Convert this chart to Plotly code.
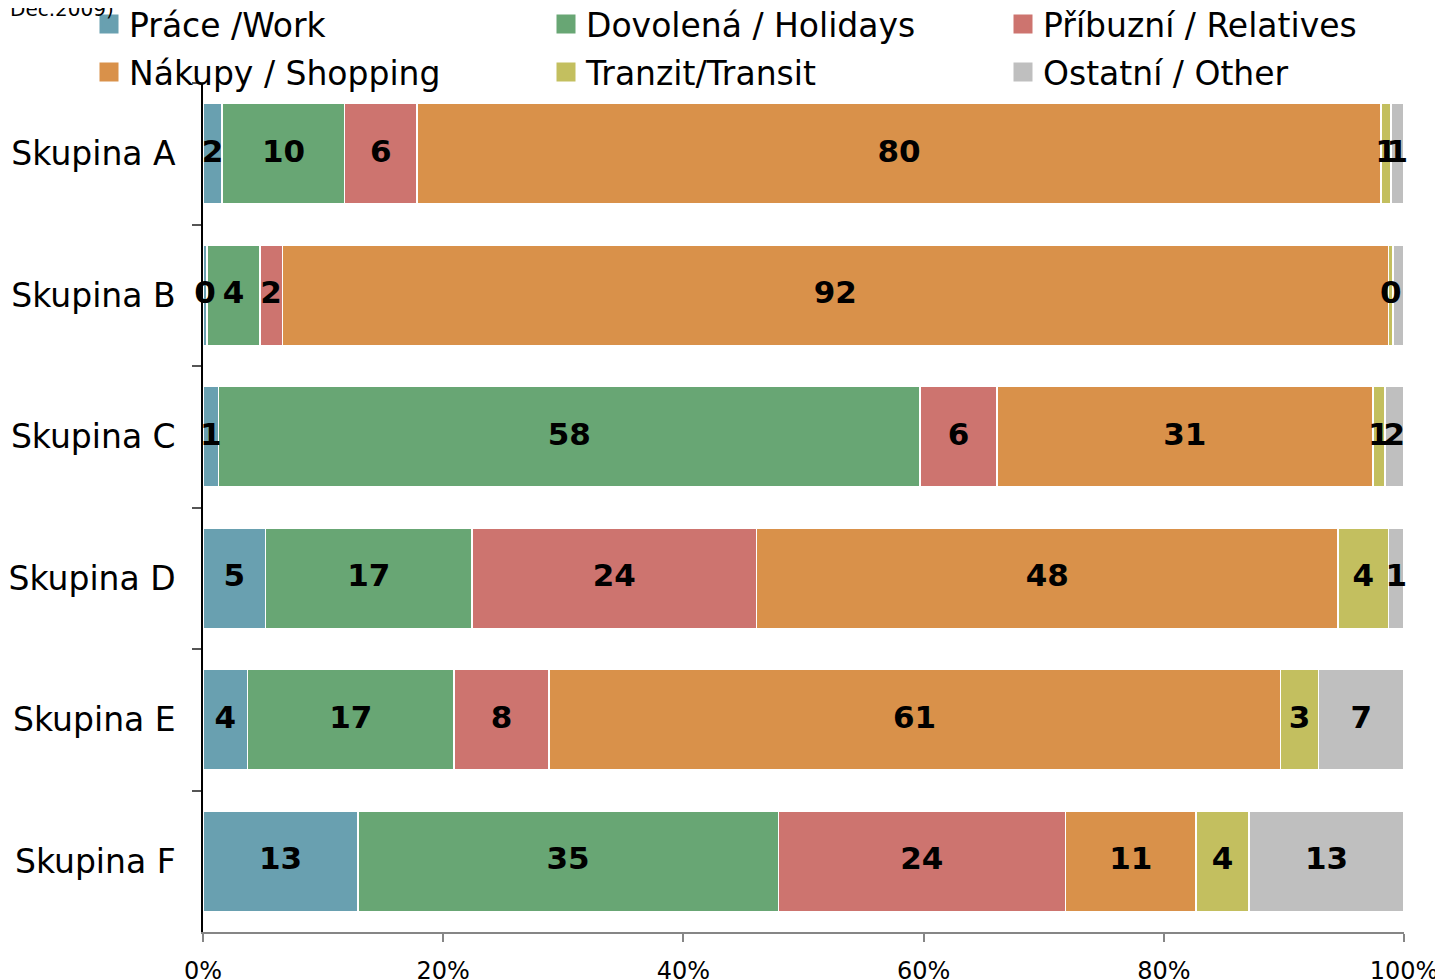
import plotly.graph_objects as go

groups = ["Skupina A", "Skupina B", "Skupina C", "Skupina D", "Skupina E", "Skupina F"]

work = [1.6, 0.35, 1.3, 5.2, 3.7, 12.9]
holidays = [10.2, 4.4, 58.4, 17.2, 17.2, 35.0]
relatives = [6.0, 1.85, 6.4, 23.7, 7.9, 23.9]
shopping = [80.3, 92.1, 31.3, 48.4, 60.9, 10.9]
transit = [0.8, 0.4, 1.0, 4.2, 3.2, 4.4]
other = [1.1, 0.9, 1.6, 1.3, 7.1, 12.9]

series_names = ["Práce /Work", "Dovolená / Holidays", "Příbuzní / Relatives",
                "Nákupy / Shopping", "Tranzit/Transit", "Ostatní / Other"]
series_values = [work, holidays, relatives, shopping, transit, other]
colors = ["#69a0b0", "#68a674", "#cd746f", "#d9914a", "#c3bf5f", "#bfbfbf"]

# data label that is not shown in the original (group B, Other)
hidden_labels = [("Skupina B", "Ostatní / Other")]

tick_vals = [0, 20, 40, 60, 80, 100]
tick_text = ["0%", "20%", "40%", "60%", "80%", "100%"]

FONT = "DejaVu Sans, Verdana, sans-serif"

# page body has an 8px margin, so the figure is 16px smaller than the window
W, H = 1435, 971
L, T, R, B = 195, 75, 39, 47
pw, ph = W - L - R, H - T - B


def px_x(x):
    return (x - L) / pw


def px_y(y):
    return 1 - (y - T) / ph


fig = go.Figure()
for i, (name, vals, col) in enumerate(zip(series_names, series_values, colors)):
    fig.add_trace(go.Bar(
        y=groups, x=vals, name=name, orientation="h", showlegend=False,
        marker=dict(color=col, line=dict(color="white", width=1.5)),
        hoverinfo="skip",
    ))
    # legend entry with a larger square swatch
    fig.add_trace(go.Scatter(
        x=[None], y=[None], mode="markers", name=name,
        marker=dict(symbol="square", size=16, color=col, line=dict(color=col, width=3)),
        legend="legend" if i < 3 else "legend2", hoverinfo="skip",
    ))

# data labels drawn on top of all bars, centred in each segment
base = [0.0] * len(groups)
for name, vals in zip(series_names, series_values):
    mids = [b + v / 2 for b, v in zip(base, vals)]
    labels = ["" if (g, name) in hidden_labels else f"{v:.0f}" for g, v in zip(groups, vals)]
    fig.add_trace(go.Scatter(
        x=mids, y=groups, mode="text", text=labels, textposition="middle center",
        textfont=dict(family=FONT, size=31, color="black", weight="bold"),
        showlegend=False, cliponaxis=False, hoverinfo="skip",
    ))
    base = [b + v for b, v in zip(base, vals)]

legend_common = dict(
    orientation="h", traceorder="normal",
    xref="paper", yref="paper",
    x=px_x(81), xanchor="left", yanchor="top",
    entrywidth=412, entrywidthmode="pixels",
    font=dict(size=33), bgcolor="rgba(0,0,0,0)",
)

fig.update_layout(
    barmode="stack", bargap=0.29,
    width=W, height=H,
    margin=dict(l=L, r=R, t=T, b=B, autoexpand=False),
    paper_bgcolor="white", plot_bgcolor="white",
    font=dict(family=FONT, size=33, color="black"),
    showlegend=True,
    legend=dict(y=px_y(-12), **legend_common),
    legend2=dict(y=px_y(36), **legend_common),
    annotations=[dict(
        text="Dec.2009)", xref="paper", yref="paper",
        x=px_x(0), xanchor="left",
        y=px_y(1), yanchor="middle",
        showarrow=False, font=dict(size=20),
    )],
)

fig.update_xaxes(
    range=[0, 100], tickvals=tick_vals, ticktext=tick_text,
    showgrid=False, zeroline=False,
    showline=True, linecolor="#868686", linewidth=1.5,
    ticks="outside", ticklen=8, tickcolor="#868686", tickwidth=1.5,
    tickfont=dict(size=24), ticklabelstandoff=8,
)
fig.update_yaxes(
    autorange="reversed", categoryorder="array", categoryarray=groups,
    showgrid=False, zeroline=False,
    showline=True, linecolor="black", linewidth=1.5,
    ticks="outside", tickson="boundaries", ticklen=9, tickcolor="#555555", tickwidth=1.5,
    tickfont=dict(size=33), ticklabelstandoff=19,
)

fig.write_html("out.html")
